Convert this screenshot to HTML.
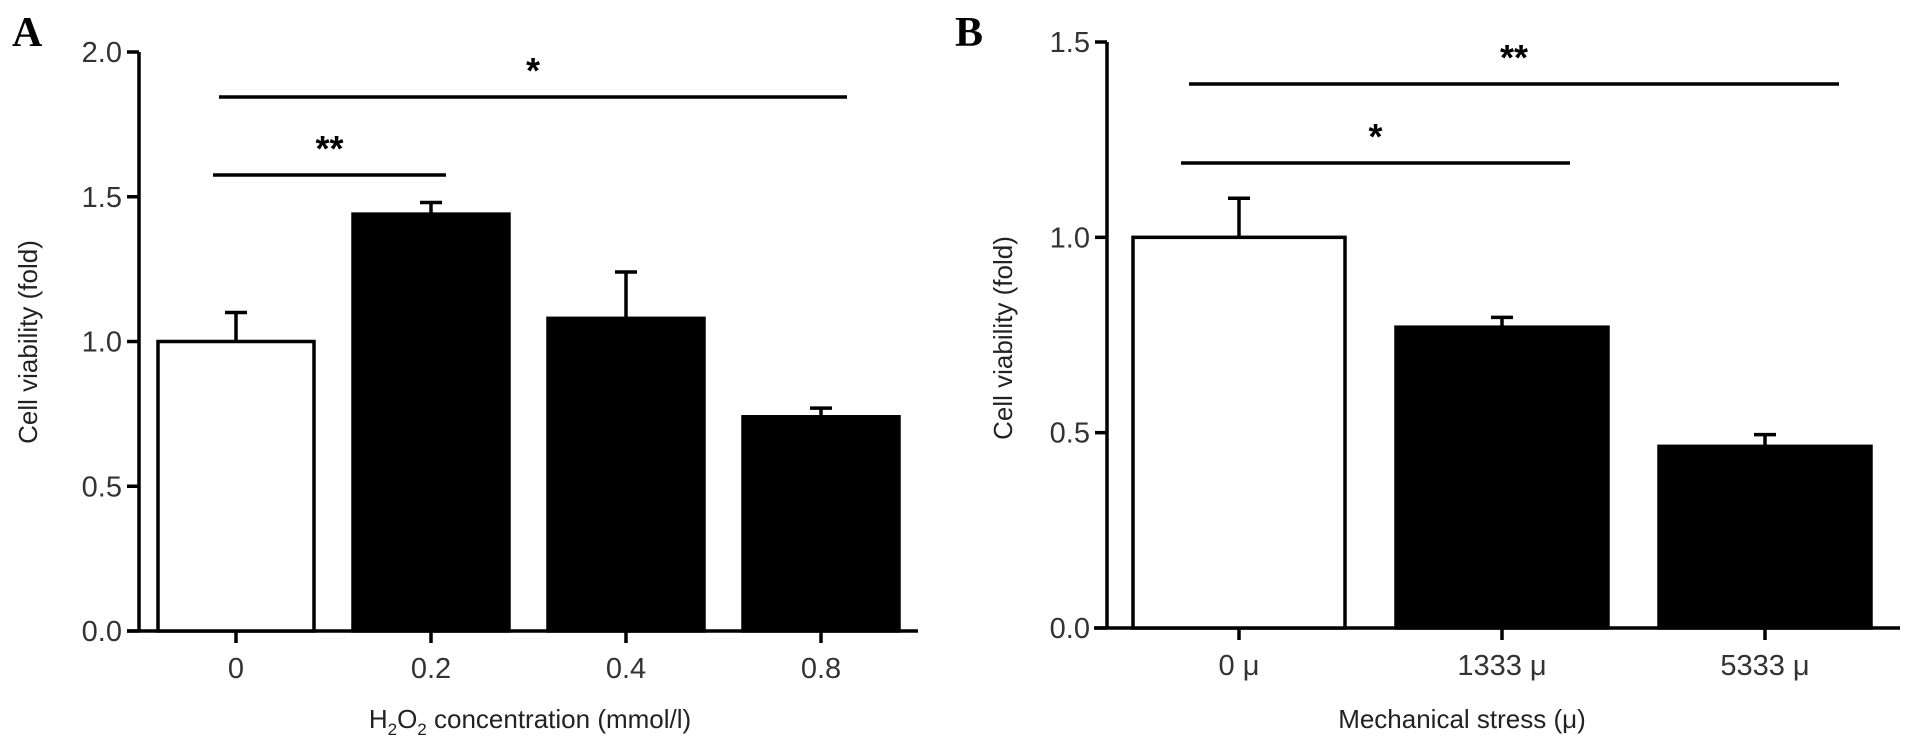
<!DOCTYPE html>
<html><head><meta charset="utf-8"><style>
html,body{margin:0;padding:0;background:#fff;}
svg{display:block;font-family:"Liberation Sans",sans-serif;}
</style></head><body>
<svg id="chart" width="1913" height="751">
<text x="12" y="46" font-family="Liberation Serif" font-weight="bold" font-size="42">A</text>
<text x="955" y="46" font-family="Liberation Serif" font-weight="bold" font-size="42">B</text>
<text transform="translate(37,342) rotate(-90)" text-anchor="middle" font-size="26" fill="#222">Cell viability (fold)</text>
<text transform="translate(1012,338) rotate(-90)" text-anchor="middle" font-size="26" fill="#222">Cell viability (fold)</text>
<text x="530" y="728" text-anchor="middle" font-size="26" fill="#222">H<tspan font-size="17" dy="7">2</tspan><tspan dy="-7">O</tspan><tspan font-size="17" dy="7">2</tspan><tspan dy="-7"> concentration (mmol/l)</tspan></text>
<text x="1462" y="728" text-anchor="middle" font-size="26" fill="#222">Mechanical stress (μ)</text>
<g id="ga"></g><g id="gb"></g>
</svg>
<script>
const catsA=["0","0.2","0.4","0.8"];
const valsA=[1.0,1.44,1.08,0.74];
const errA=[0.10,0.04,0.16,0.03];
const ticksA=["0.0","0.5","1.0","1.5","2.0"];
const catsB=["0 μ","1333 μ","5333 μ"];
const valsB=[1.0,0.77,0.465];
const errB=[0.10,0.025,0.03];
const ticksB=["0.0","0.5","1.0","1.5"];
const NS="http://www.w3.org/2000/svg";
function mk(g,t,a){const e=document.createElementNS(NS,t);for(const k in a)e.setAttribute(k,a[k]);g.appendChild(e);return e;}
function panel(gid,cats,vals,errs,ticks,o){
 const g=document.getElementById(gid);
 const yS=v=>o.y0-(v/o.ymax)*(o.y0-o.ytop);
 const xS=i=>o.c0+i*o.step;
 const ax=mk(g,'path',{d:`M${o.x0} ${o.ytop}V${o.y0}H${o.x1}M${o.xs} ${o.y0}H${o.x0}`,stroke:'#000','stroke-width':3.5,fill:'none'});
 
 ticks.forEach(t=>{const y=yS(parseFloat(t));
  const l=mk(g,'line',{x1:o.x0-12,x2:o.x0,y1:y,y2:y,stroke:'#000','stroke-width':3.5});
  
  const tx=mk(g,'text',{x:o.x0-17,y:y+10,'text-anchor':'end','font-size':29,fill:'#333'});tx.textContent=t;
  });
 cats.forEach((c,i)=>{const cx=xS(i),v=vals[i],e=errs[i];
  const ey=mk(g,'path',{d:`M${cx} ${yS(v)}V${yS(v+e)}M${cx-11} ${yS(v+e)}H${cx+11}`,stroke:'#000','stroke-width':3.5,fill:'none'});
  
  const r=mk(g,'rect',{x:cx-o.bw/2,y:yS(v),width:o.bw,height:o.y0-yS(v),fill:i==0?'#fff':'#000',stroke:'#000','stroke-width':3.5});
  
  const tk=mk(g,'line',{x1:cx,x2:cx,y1:o.y0,y2:o.y0+12,stroke:'#000','stroke-width':3.5});
  
  const tx=mk(g,'text',{x:cx,y:o.y0+47,'text-anchor':'middle','font-size':29,fill:'#333'});tx.textContent=c;
  });
 o.sig.forEach(s=>{const l=mk(g,'line',{x1:s[0],x2:s[1],y1:s[2],y2:s[2],stroke:'#000','stroke-width':3.5});
  
  const t=mk(g,'text',{x:(s[0]+s[1])/2,y:s[2]-14,'text-anchor':'middle','font-size':36,'font-weight':'bold'});t.textContent=s[3];
  });
}
panel('ga',catsA,valsA,errA,ticksA,{x0:139,xs:127,x1:918,y0:631,ytop:52,ymax:2.0,c0:236,step:195,bw:156,
 sig:[[219,847,97,'*'],[213,446,175,'**']]});
panel('gb',catsB,valsB,errB,ticksB,{x0:1107,xs:1094,x1:1900,y0:628,ytop:42,ymax:1.5,c0:1239,step:263,bw:212,
 sig:[[1189,1839,84,'**'],[1181,1570,163,'*']]});
</script>
</body></html>
